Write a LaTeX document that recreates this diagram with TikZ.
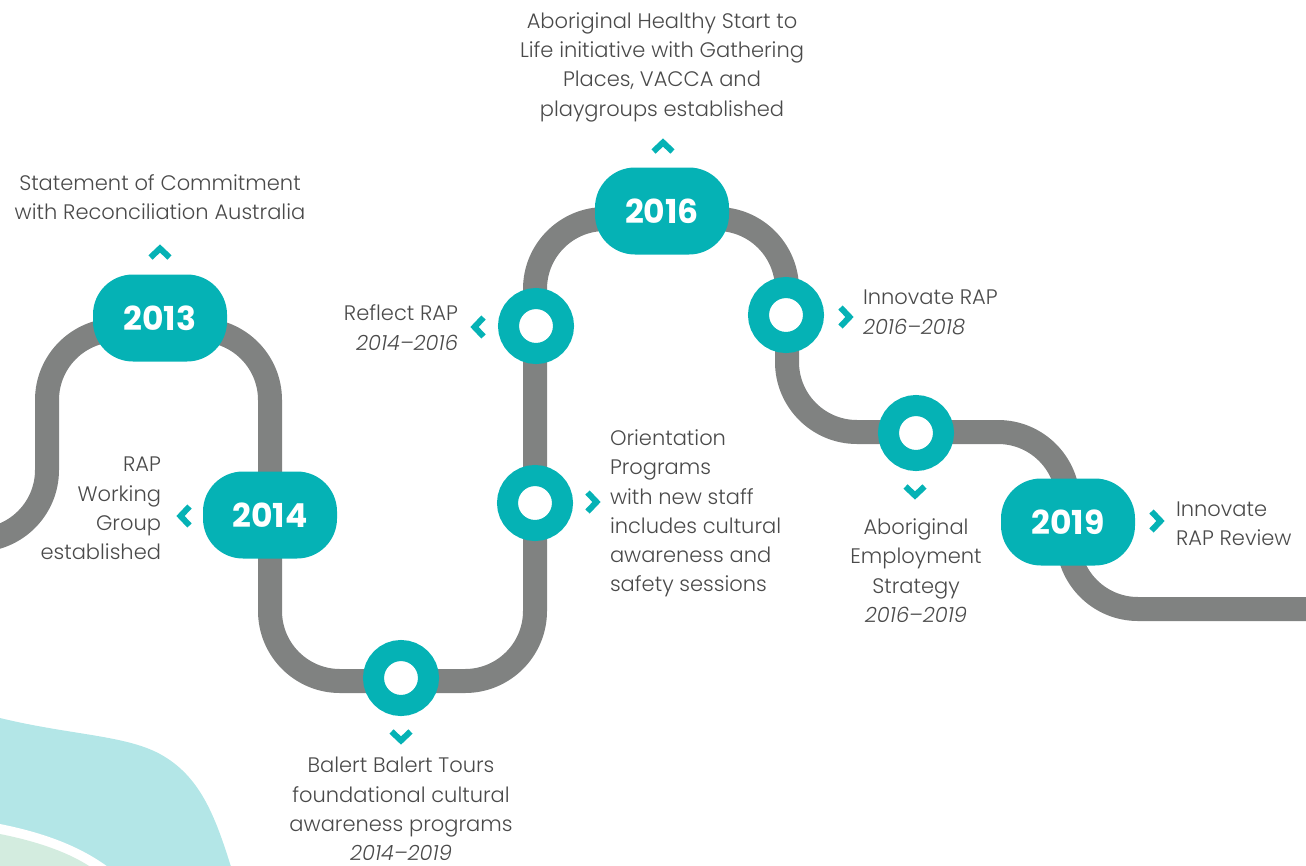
\documentclass[tikz,border=0pt]{standalone}
\usepackage{fontspec}
\IfFontExistsTF{Poppins Light}{%
  \IfFontExistsTF{Poppins Light Italic}%
    {\setmainfont{Poppins Light}[ItalicFont={Poppins Light Italic}]}%
    {\setmainfont{Poppins Light}}}%
  {\setmainfont{Poppins}}
\IfFontExistsTF{Poppins Bold}{\newfontfamily\yearfont{Poppins Bold}}{\newfontfamily\yearfont{Poppins}}
\definecolor{teal}{HTML}{05B2B5}
\definecolor{track}{HTML}{808281}
\definecolor{txtgrey}{HTML}{4A4A4A}
\definecolor{blobteal}{HTML}{B3E6E7}
\definecolor{blobgreen}{HTML}{D3ECDF}
\tikzset{
  txt/.style={text=txtgrey, font=\fontsize{21}{29.3}\selectfont, inner sep=0pt, outer sep=0pt},
  yearpill/.style={fill=teal, text=white, rounded corners=40pt, minimum width=134pt,
    minimum height=87pt, inner sep=0pt, font=\yearfont\fontsize{33}{33}\selectfont},
  ring/.style={circle, draw=teal, line width=21pt, fill=white, minimum size=55pt,
    inner sep=0pt, outer sep=0pt},
  chevline/.style={draw=teal, line width=6pt, miter limit=10},
  chev/.pic={\draw[chevline] (-4.5,-9.5) -- (4.5,0) -- (-4.5,9.5);},
}
\begin{document}
\begin{tikzpicture}[x=1pt, y=-1pt]
\useasboundingbox (0,0) rectangle (1306,865);
\begin{scope}
\clip (0,0) rectangle (1306,865);
% soft background shapes in the lower left corner
\fill[blobteal] (0,718) .. controls (70,735) and (125,735) .. (160,754)
  .. controls (200,776) and (215,815) .. (232,870) -- (0,870) -- cycle;
\fill[white] (0,824) .. controls (40,832) and (80,845) .. (112,870) -- (0,870) -- cycle;
\fill[blobgreen] (0,834) .. controls (35,841) and (70,852) .. (95,870) -- (0,870) -- cycle;
% the winding timeline track
\coordinate (s0) at (-80,540);
\coordinate (s1) at (47,540);
\coordinate (s2) at (47,330);
\coordinate (s3) at (270,330);
\coordinate (s4) at (270,681);
\coordinate (s5) at (535,681);
\coordinate (s6) at (535,219);
\coordinate (s7) at (787,219);
\coordinate (s8) at (787,432);
\coordinate (s9) at (1068,432);
\coordinate (s10) at (1068,609);
\coordinate (s11) at (1400,609);
\draw[track, line width=24pt, rounded corners=70pt]
  (s0) -- (s1) -- (s2) -- (s3) -- (s4) -- (s5) -- (s6) -- (s7) -- (s8) -- (s9) -- (s10) -- (s11);
\end{scope}
% year markers
\node[yearpill] (y2013) at (160,318) {2013};
\node[yearpill] (y2014) at (270,515) {2014};
\node[yearpill] (y2016) at (662,211) {2016};
\node[yearpill] (y2019) at (1068,522) {2019};
% milestone rings
\node[ring] (rReflect) at (536,326) {};
\node[ring] (rOrient) at (535,503) {};
\node[ring] (rInnov) at (786,315) {};
\node[ring] (rEmploy) at (916,433) {};
\node[ring] (rBalert) at (401,678) {};
% chevrons pointing at the captions
\pic[rotate=90] at (160,253) {chev};
\pic[rotate=90] at (663,147) {chev};
\pic[rotate=180] at (185,516) {chev};
\pic[rotate=180] at (479,327) {chev};
\pic at (592,502) {chev};
\pic at (845,317) {chev};
\pic[rotate=-90] at (915,491) {chev};
\pic[rotate=-90] at (401,736) {chev};
\pic at (1156,521) {chev};
% captions
\node[txt, align=center] (tStatement) at (160,197) {Statement of Commitment\\with Reconciliation Australia};
\node[txt, align=center] (tHealthy) at (662,67) {Aboriginal Healthy Start to\\Life initiative with Gathering\\Places, VACCA and\\playgroups established};
\node[txt, align=right, anchor=east] (tReflect) at (458,327.5) {Reflect RAP\\\textit{2014–2016}};
\node[txt, align=right, anchor=east] (tWorking) at (161,508.5) {RAP\\Working\\Group\\established};
\node[txt, align=left, anchor=west] (tInnov) at (863,312.5) {Innovate RAP\\\textit{2016–2018}};
\node[txt, align=left, anchor=west] (tOrient) at (610,513.5) {Orientation\\Programs\\with new staff\\includes cultural\\awareness and\\safety sessions};
\node[txt, align=center] (tEmploy) at (916,570.5) {Aboriginal\\Employment\\Strategy\\\textit{2016–2019}};
\node[txt, align=left, anchor=west] (tReview) at (1176,523.5) {Innovate\\RAP Review};
\node[txt, align=center] (tBalert) at (401,809) {Balert Balert Tours\\foundational cultural\\awareness programs\\\textit{2014–2019}};
\end{tikzpicture}
\end{document}
